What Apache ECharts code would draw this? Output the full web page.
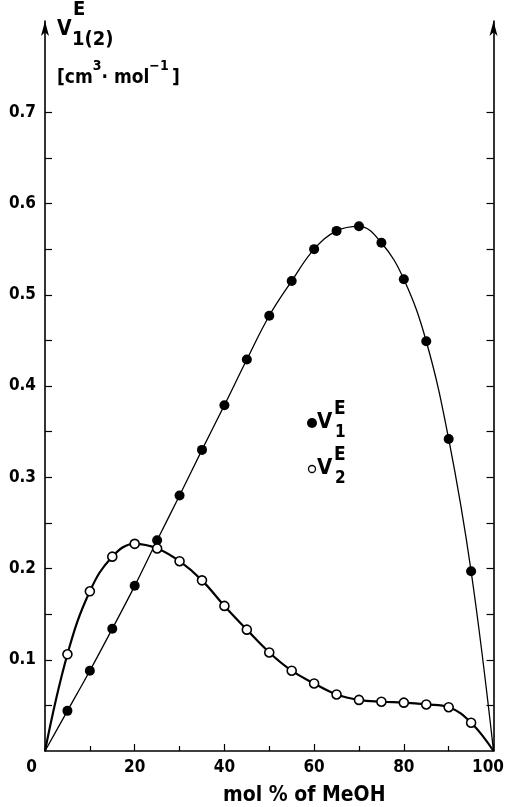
<!DOCTYPE html>
<html><head><meta charset="utf-8">
<script src="https://cdn.jsdelivr.net/npm/echarts@6/dist/echarts.min.js"></script>
<style>html,body{margin:0;padding:0;background:#fff}#c{width:507px;height:807px}</style>
</head><body><div id="c"></div>
<script>
// Data
const molPct = [0, 5, 10, 15, 20, 25, 30, 35, 40, 45, 50, 55, 60, 65, 70, 75, 80, 85, 90, 95, 100];
const v1 = [0, 0.044, 0.088, 0.134, 0.181, 0.231, 0.280, 0.330, 0.379, 0.429, 0.477, 0.515, 0.550, 0.570, 0.575, 0.557, 0.517, 0.449, 0.342, 0.197, 0];
const v2 = [0, 0.106, 0.175, 0.213, 0.227, 0.222, 0.208, 0.187, 0.159, 0.133, 0.108, 0.088, 0.074, 0.062, 0.056, 0.054, 0.053, 0.051, 0.048, 0.031, 0];
const xTickValues = [0, 20, 40, 60, 80, 100];
const yLabelValues = [0.1, 0.2, 0.3, 0.4, 0.5, 0.6, 0.7];
const yTickValues = [0.05, 0.1, 0.15, 0.2, 0.25, 0.3, 0.35, 0.4, 0.45, 0.5, 0.55, 0.6, 0.65, 0.7];
const yTitle = { V: 'V', sup: 'E', sub: '1(2)' };
const unitParts = ['[cm', '3', '· mol', '−1', '\u2009]'];
const xTitle = 'mol % of MeOH';
const legendNames = [{ sub: '1' }, { sub: '2' }];

const FONT = '"DejaVu Sans Condensed", "DejaVu Sans", sans-serif';
const INK = '#000';

function pts(ys) {
  return molPct.map((x, i) => (x === 0 || x === 100) ? { value: [x, ys[i]], symbol: 'none' } : [x, ys[i]]);
}

const chart = echarts.init(document.getElementById('c'), null, { renderer: 'canvas' });

const yAxisBase = {
  type: 'value', min: 0, max: 0.8, interval: 0.1,
  axisLine: { show: true, lineStyle: { color: INK, width: 1.6 }, symbol: ['none', 'arrow'], symbolSize: [6, 15], symbolOffset: [0, 0] },
  axisTick: { show: true, inside: true, length: 7, lineStyle: { color: INK, width: 1.2 }, customValues: yTickValues },
  splitLine: { show: false }
};

chart.setOption({
  animation: false,
  backgroundColor: '#fff',
  grid: { left: 45, right: 8, top: 21, bottom: 56, containLabel: false },
  xAxis: {
    type: 'value', min: 0, max: 100, interval: 20,
    axisLine: { show: true, onZero: false, lineStyle: { color: INK, width: 1.6 } },
    axisTick: { show: true, inside: true, length: 7, lineStyle: { color: INK, width: 1.2 } },
    minorTick: { show: true, splitNumber: 2, length: 5, lineStyle: { color: INK, width: 1.2 } },
    splitLine: { show: false },
    axisLabel: {
      color: INK, fontFamily: FONT, fontSize: 17, fontWeight: 'bold', margin: 8,
      formatter: v => v === 0 ? '{l|0}' : (v === 100 ? '{r|100}' : String(v)),
      rich: {
        l: { fontFamily: FONT, fontSize: 17, fontWeight: 'bold', color: INK, padding: [0, 27, 0, 0] },
        r: { fontFamily: FONT, fontSize: 17, fontWeight: 'bold', color: INK, padding: [0, 11, 0, 0] }
      }
    }
  },
  yAxis: [
    Object.assign({}, yAxisBase, {
      position: 'left',
      axisLabel: {
        show: true, color: INK, fontFamily: FONT, fontSize: 17, fontWeight: 'bold', margin: 9,
        customValues: yLabelValues,
        formatter: v => v.toFixed(1)
      }
    }),
    Object.assign({}, yAxisBase, {
      position: 'right',
      axisLabel: { show: false }
    })
  ],
  series: [
    {
      type: 'line', name: 'V1', data: pts(v1), smooth: 0.4,
      lineStyle: { color: INK, width: 1.3 },
      symbol: 'circle', symbolSize: 10,
      itemStyle: { color: INK, borderColor: INK, borderWidth: 0 },
      z: 3
    },
    {
      type: 'line', name: 'V2', data: pts(v2), smooth: 0.4,
      lineStyle: { color: INK, width: 2.2 },
      symbol: 'circle', symbolSize: 9, showAllSymbol: true,
      itemStyle: { color: '#fff', borderColor: INK, borderWidth: 1.6 },
      z: 4
    }
  ],
  graphic: [
    // y-axis title
    { type: 'text', left: 57, top: 19, style: { text: yTitle.V, font: 'bold 21px ' + FONT, fill: INK } },
    { type: 'text', left: 73, top: 0, style: { text: yTitle.sup, font: 'bold 20px ' + FONT, fill: INK } },
    { type: 'text', left: 72, top: 30, style: { text: yTitle.sub, font: 'bold 20px ' + FONT, fill: INK } },
    {
      type: 'text', left: 57, top: 59,
      style: {
        text: '{n|' + unitParts[0] + '}{s|' + unitParts[1] + '}{n|' + unitParts[2] + '}{s|' + unitParts[3] + '}{n|' + unitParts[4] + '}',
        rich: {
          n: { font: 'bold 19px ' + FONT, fill: INK, lineHeight: 29, verticalAlign: 'bottom' },
          s: { font: 'bold 14px ' + FONT, fill: INK, lineHeight: 29, verticalAlign: 'top' }
        }
      }
    },
    // x-axis title
    { type: 'text', left: 223, top: 785, style: { text: xTitle, font: 'bold 21px ' + FONT, fill: INK } },
    // legend
    { type: 'circle', shape: { cx: 312, cy: 423, r: 5 }, style: { fill: INK } },
    { type: 'text', left: 317, top: 411, style: { text: 'V', font: 'bold 22px ' + FONT, fill: INK } },
    { type: 'text', left: 334, top: 400, style: { text: 'E', font: 'bold 19px ' + FONT, fill: INK } },
    { type: 'text', left: 335, top: 424, style: { text: legendNames[0].sub, font: 'bold 17px ' + FONT, fill: INK } },
    { type: 'circle', shape: { cx: 312, cy: 469, r: 3.5 }, style: { fill: '#fff', stroke: INK, lineWidth: 1.3 } },
    { type: 'text', left: 317, top: 457, style: { text: 'V', font: 'bold 22px ' + FONT, fill: INK } },
    { type: 'text', left: 334, top: 446, style: { text: 'E', font: 'bold 19px ' + FONT, fill: INK } },
    { type: 'text', left: 335, top: 470, style: { text: legendNames[1].sub, font: 'bold 17px ' + FONT, fill: INK } }
  ]
});
</script>
</body></html>
